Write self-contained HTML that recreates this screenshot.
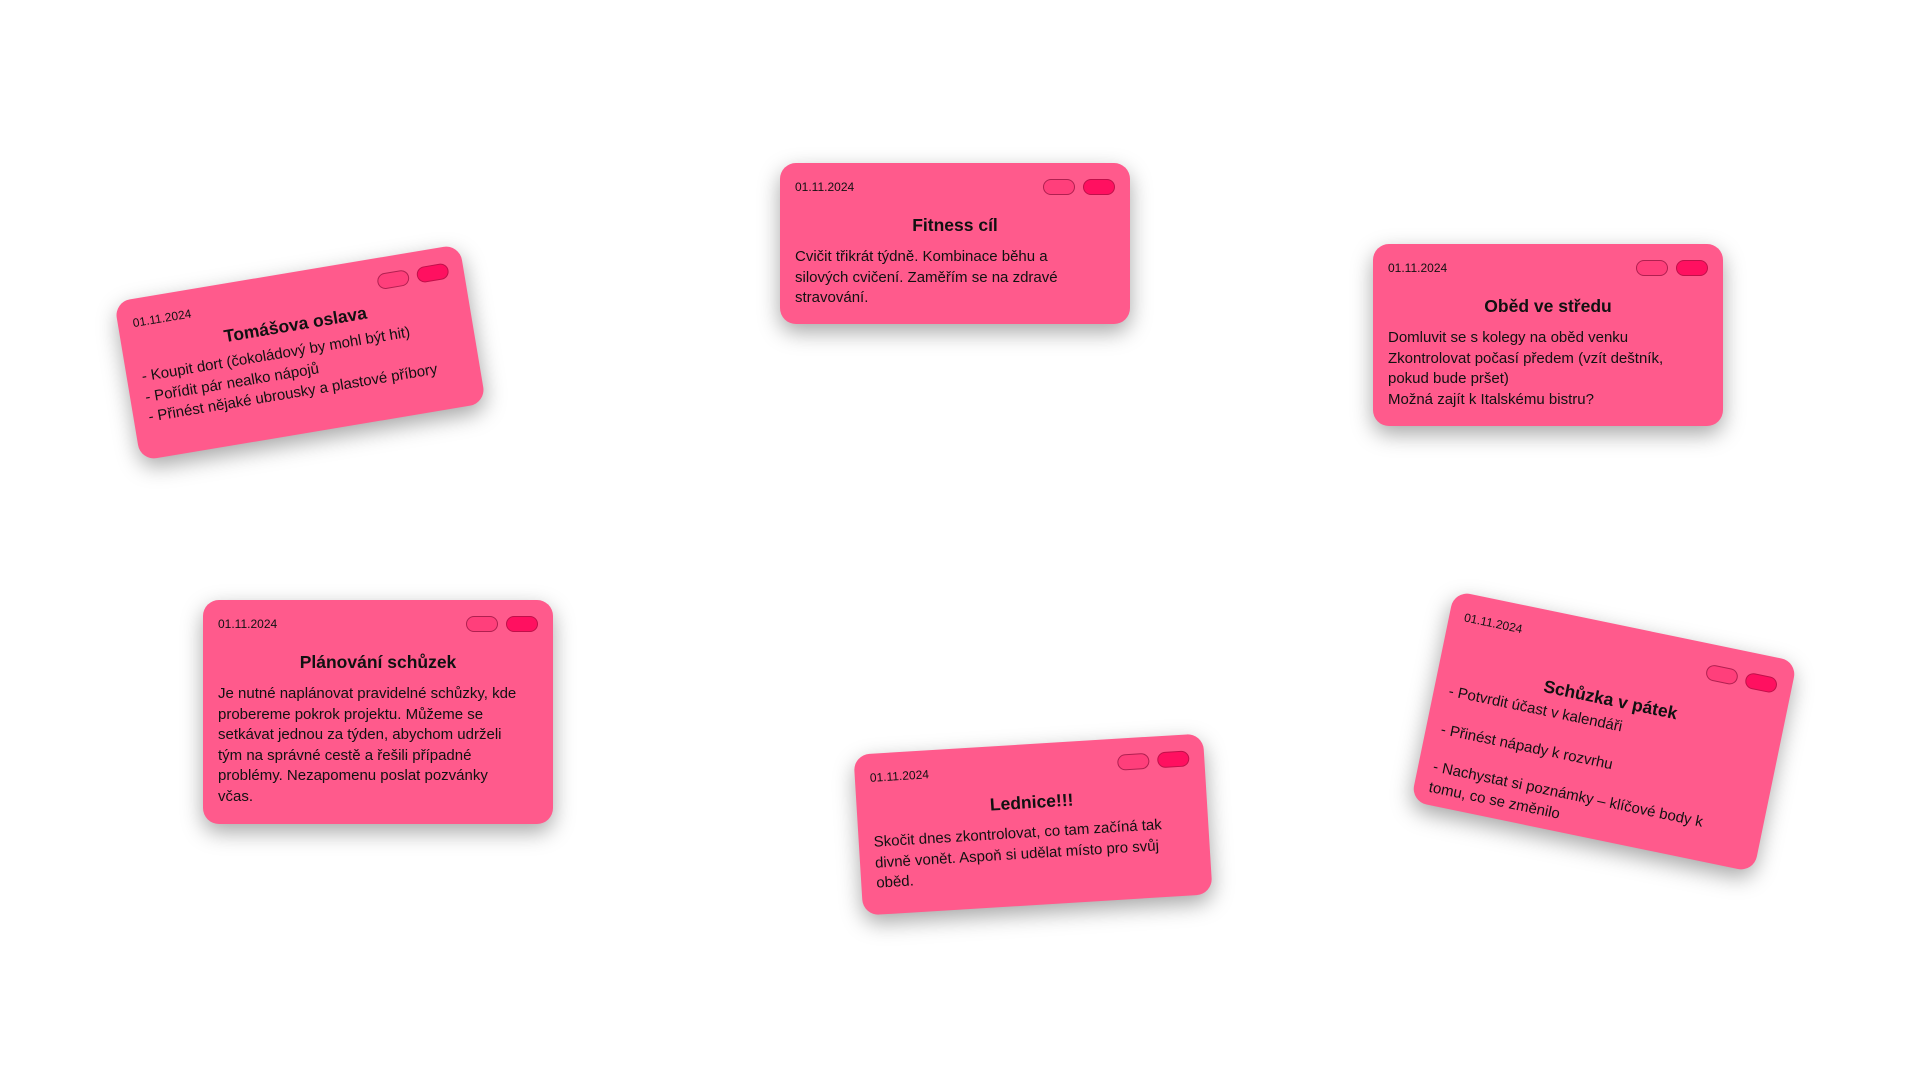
<!DOCTYPE html>
<html><head><meta charset="utf-8"><style>
body{margin:0;width:1920px;height:1080px;background:#fff;position:relative;overflow:hidden;font-family:"Liberation Sans","DejaVu Sans",sans-serif;color:#111}
.c{position:absolute;width:350px;box-sizing:border-box;padding:14px 15px;background:#ff5a8c;border-radius:16px;box-shadow:0 8px 22px rgba(0,0,0,.35)}
.d{font-size:12px;height:20px;line-height:20px;position:relative}
.b{position:absolute;right:0;top:2px}
.b span{display:inline-block;width:30px;height:14px;border-radius:8px;margin-left:8px;vertical-align:top}
.b span:first-child{background:#ff3f7b;border:1px solid #b02050}
.b span:last-child{background:#ff1060;border:1px solid #c0104a}
h3{margin:18px 0 11px;text-align:center;font-size:17.5px;font-weight:bold}
p{margin:0;font-size:15px;line-height:20.5px;white-space:nowrap}
</style></head><body>

<div class="c" style="left:780px;top:163px;height:161px">
<div class="d">01.11.2024<div class="b"><span></span><span></span></div></div>
<h3>Fitness cíl</h3>
<p>Cvičit třikrát týdně. Kombinace běhu a<br>silových cvičení. Zaměřím se na zdravé<br>stravování.</p>
</div>

<div class="c" style="left:1373px;top:244px;height:182px">
<div class="d">01.11.2024<div class="b"><span></span><span></span></div></div>
<h3>Oběd ve středu</h3>
<p>Domluvit se s kolegy na oběd venku<br>Zkontrolovat počasí předem (vzít deštník,<br>pokud bude pršet)<br>Možná zajít k Italskému bistru?</p>
</div>

<div class="c" style="left:203px;top:600px;height:224px">
<div class="d">01.11.2024<div class="b"><span></span><span></span></div></div>
<h3>Plánování schůzek</h3>
<p>Je nutné naplánovat pravidelné schůzky, kde<br>probereme pokrok projektu. Můžeme se<br>setkávat jednou za týden, abychom udrželi<br>tým na správné cestě a řešili případné<br>problémy. Nezapomenu poslat pozvánky<br>včas.</p>
</div>

<div class="c" style="left:125px;top:272px;height:161px;transform:rotate(-9.5deg)">
<div class="d">01.11.2024<div class="b"><span></span><span></span></div></div>
<h3 style="margin:8px 0 6px">Tomášova oslava</h3>
<p>- Koupit dort (čokoládový by mohl být hit)<br>- Pořídit pár nealko nápojů<br>- Přinést nějaké ubrousky a plastové příbory</p>
</div>

<div class="c" style="left:858px;top:744px;height:161px;transform:rotate(-3.5deg)">
<div class="d">01.11.2024<div class="b"><span></span><span></span></div></div>
<h3 style="margin:14px 0 10px">Lednice!!!</h3>
<p>Skočit dnes zkontrolovat, co tam začíná tak<br>divně vonět. Aspoň si udělat místo pro svůj<br>oběd.</p>
</div>

<div class="c" style="left:1429px;top:624px;height:215px;transform:rotate(11.7deg)">
<div class="d">01.11.2024</div>
<div class="b" style="top:20px;right:15px"><span></span><span></span></div>
<div style="position:relative;height:30px;margin-top:26px">
<h3 style="margin:0;line-height:30px">Schůzka v pátek</h3>
</div>
<p style="margin-bottom:18px">- Potvrdit účast v kalendáři</p>
<p style="margin-bottom:18px">- Přinést nápady k rozvrhu</p>
<p>- Nachystat si poznámky – klíčové body k<br>tomu, co se změnilo</p>
</div>

</body></html>
